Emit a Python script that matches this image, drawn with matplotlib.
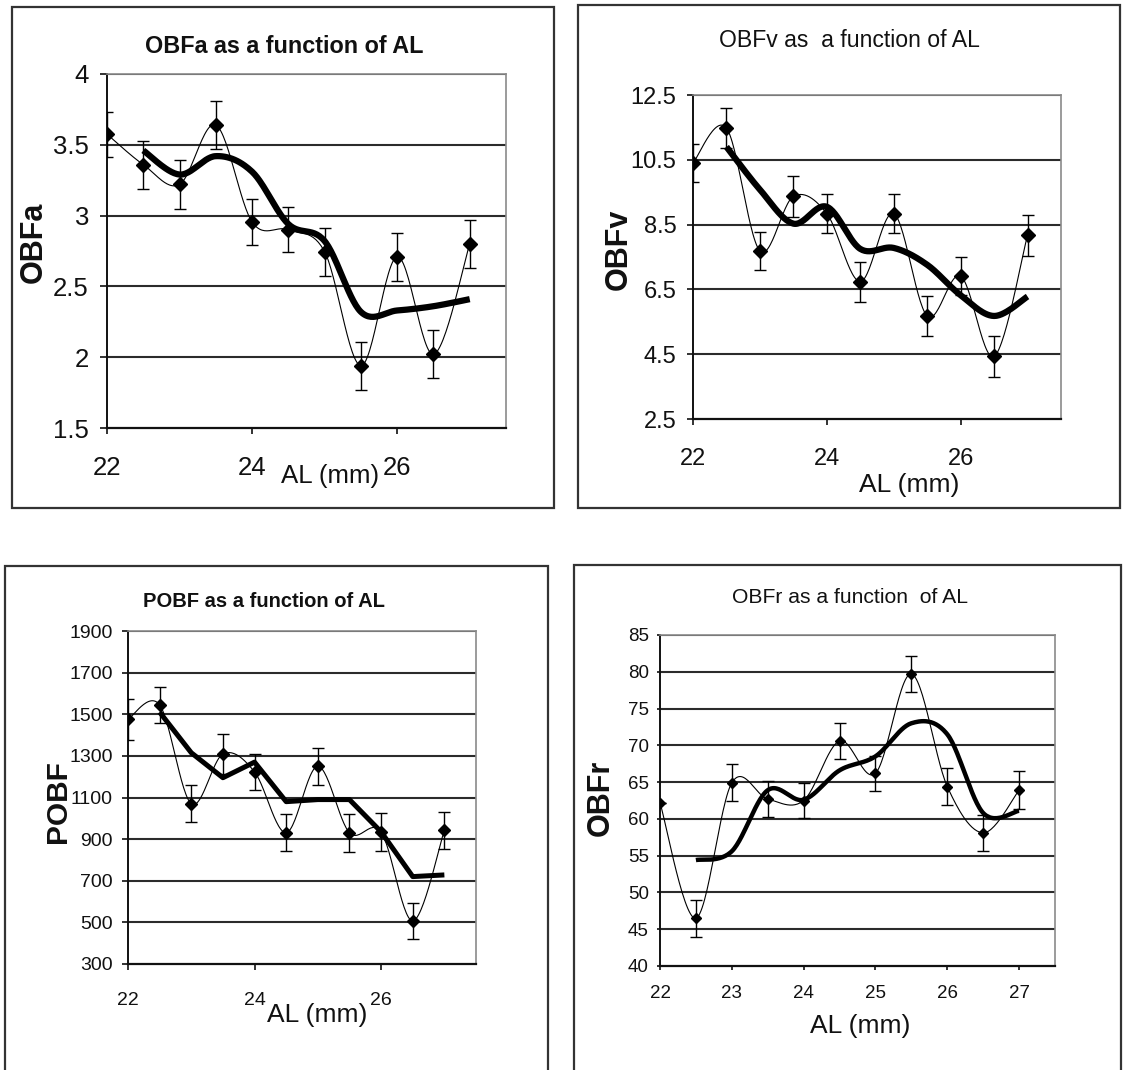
import numpy as np
import matplotlib
matplotlib.use("Agg")
import matplotlib.pyplot as plt
from matplotlib import font_manager
from matplotlib.patches import Rectangle

# ---------------- data ----------------
al = [22, 22.5, 23, 23.5, 24, 24.5, 25, 25.5, 26, 26.5, 27]
al_trend = [22.5, 23, 23.5, 24, 24.5, 25, 25.5, 26, 26.5, 27]

obfa = [3.575, 3.36, 3.22, 3.64, 2.955, 2.90, 2.745, 1.94, 2.71, 2.02, 2.80]
obfa_err = [0.16, 0.17, 0.17, 0.17, 0.16, 0.16, 0.17, 0.17, 0.17, 0.17, 0.17]
obfa_trend = [3.46, 3.29, 3.42, 3.31, 2.94, 2.82, 2.32, 2.33, 2.36, 2.41]

obfv = [10.40, 11.48, 7.69, 9.37, 8.84, 6.74, 8.84, 5.68, 6.91, 4.43, 8.17]
obfv_err = [0.60, 0.63, 0.59, 0.63, 0.61, 0.62, 0.59, 0.61, 0.58, 0.63, 0.64]
obfv_trend = [10.90, 9.58, 8.53, 9.05, 7.75, 7.78, 7.26, 6.32, 5.68, 6.28]

pobf = [1476, 1545, 1070, 1309, 1223, 931, 1250, 931, 934, 507, 942]
pobf_err = [98, 88, 88, 96, 88, 90, 88, 92, 90, 88, 88]
pobf_trend = [1510, 1315, 1195, 1270, 1080, 1090, 1090, 935, 720, 728]

obfr = [62.2, 46.5, 64.9, 62.7, 62.5, 70.6, 66.2, 79.7, 64.4, 58.1, 63.9]
obfr_err = [0.0, 2.5, 2.5, 2.5, 2.4, 2.4, 2.4, 2.4, 2.5, 2.45, 2.55]
obfr_trend = [54.4, 55.6, 63.9, 62.6, 66.6, 68.5, 73.0, 71.5, 60.8, 61.1]

titles = ["OBFa as a function of AL", "OBFv as  a function of AL",
          "POBF as a function of AL", "OBFr as a function  of AL"]
ylabels = ["OBFa", "OBFv", "POBF", "OBFr"]
xlabel = "AL (mm)"
yticks_list = [[1.5, 2, 2.5, 3, 3.5, 4],
               [2.5, 4.5, 6.5, 8.5, 10.5, 12.5],
               [300, 500, 700, 900, 1100, 1300, 1500, 1700, 1900],
               [40, 45, 50, 55, 60, 65, 70, 75, 80, 85]]
xticks_list = [[22, 24, 26], [22, 24, 26], [22, 24, 26], [22, 23, 24, 25, 26, 27]]

# ---------------- helpers ----------------
W, H = 1124, 1070
names = {f.name for f in font_manager.fontManager.ttflist}
FONT = "Liberation Sans" if "Liberation Sans" in names else "DejaVu Sans"
FAM = [FONT, "DejaVu Sans"]


def smooth(x, y, n=30):
    """Excel-like smoothed line (Catmull-Rom Bezier) through the points."""
    x = np.asarray(x, float)
    y = np.asarray(y, float)
    px = np.concatenate([[x[0]], x, [x[-1]]])
    py = np.concatenate([[y[0]], y, [y[-1]]])
    t = np.linspace(0, 1, n)
    xs, ys = [], []
    for i in range(len(x) - 1):
        p0 = np.array([px[i], py[i]])
        p1 = np.array([px[i + 1], py[i + 1]])
        p2 = np.array([px[i + 2], py[i + 2]])
        p3 = np.array([px[i + 3], py[i + 3]])
        c1 = p1 + (p2 - p0) / 6.0
        c2 = p2 - (p3 - p1) / 6.0
        b = ((1 - t) ** 3)[:, None] * p1 + (3 * (1 - t) ** 2 * t)[:, None] * c1 \
            + (3 * (1 - t) * t ** 2)[:, None] * c2 + (t ** 3)[:, None] * p2
        xs.append(b[:, 0])
        ys.append(b[:, 1])
    return np.concatenate(xs), np.concatenate(ys)


def fig_rect(l, t, r, b):
    return [l / W, 1 - b / H, (r - l) / W, (b - t) / H]


def fig_xy(x, y):
    return x / W, 1 - y / H


fig = plt.figure(figsize=(W / 100, H / 100), dpi=100)
fig.patch.set_facecolor("white")

# panel frames
frames = [(12, 7, 554, 508), (578, 5, 1120, 508), (5, 566, 548, 1076), (574, 565, 1121, 1076)]
for (l, t, r, b) in frames:
    fig.add_artist(Rectangle((l / W, 1 - b / H), (r - l) / W, (b - t) / H,
                             transform=fig.transFigure, fill=False,
                             edgecolor="#333333", linewidth=1.6))

axes_px = [(107, 74, 506, 428), (693, 95, 1061, 419), (128, 631, 476, 964), (660, 635, 1055, 966)]
ylims = [(1.5, 4), (2.5, 12.5), (300, 1900), (40, 85)]
series = [(obfa, obfa_err, obfa_trend), (obfv, obfv_err, obfv_trend),
          (pobf, pobf_err, pobf_trend), (obfr, obfr_err, obfr_trend)]
trend_smooth = [True, True, False, True]
marker_size = [7.5, 7.5, 6, 5.5]
trend_lw = [4.5, 4.5, 3.6, 3.2]
tick_fs = [18.5, 17, 14, 13.5]
ytick_len = [5, 4, 4.5, 2.5]
xtick_len = [4, 4, 4, 3]
xtick_pad = [16.5, 17, 16, 10.5]
ytick_pad = [8, 8, 6.5, 5.5]
cap = [4.5, 4.5, 4.5, 4.0]
# (x center, baseline y, size, weight)
title_pos = [(284, 53, 16.8, "bold"), (849, 47, 16.6, "normal"),
             (264, 607, 14.5, "bold"), (850, 603, 15.2, "normal")]
ylabel_pos = [(34, 242, 22), (619, 249, 22), (58, 802, 21.5), (601, 798, 22)]
xlabel_pos = [(330, 483, 18.6), (909, 492, 19), (317, 1022, 19), (860, 1033, 19)]

for k in range(4):
    ax = fig.add_axes(fig_rect(*axes_px[k]))
    y, err, trend = series[k]
    ax.set_xlim(22, 27.5)
    ax.set_ylim(*ylims[k])
    ax.set_yticks(yticks_list[k])
    ax.set_yticklabels([("%g" % v) for v in yticks_list[k]])
    ax.set_xticks(xticks_list[k])
    ax.set_xticklabels([str(v) for v in xticks_list[k]])

    for v in yticks_list[k][1:]:
        ax.axhline(v, color="#2b2b2b", linewidth=1.5, zorder=1)

    # thin smoothed line through the points
    sx, sy = smooth(al, y)
    ax.plot(sx, sy, color="black", linewidth=0.8, zorder=3)
    # error bars
    ax.errorbar(al, y, yerr=err, fmt="none", ecolor="black", elinewidth=1.0,
                capsize=cap[k], capthick=1.0, zorder=4)
    # markers
    ax.plot(al, y, "D", color="black", markersize=marker_size[k], zorder=5)
    # thick trend line
    if trend_smooth[k]:
        tx, ty = smooth(al_trend, trend)
    else:
        tx, ty = al_trend, trend
    ax.plot(tx, ty, color="black", linewidth=trend_lw[k], solid_capstyle="butt",
            solid_joinstyle="round", zorder=6)

    for side in ["top", "right"]:
        ax.spines[side].set_color("#8a8a8a")
        ax.spines[side].set_linewidth(1.2)
    ax.spines["left"].set_color("#111111")
    ax.spines["left"].set_linewidth(1.4)
    ax.spines["bottom"].set_color("#111111")
    ax.spines["bottom"].set_linewidth(1.6)
    ax.tick_params(axis="y", direction="out", length=ytick_len[k], width=1.2,
                   pad=ytick_pad[k], labelsize=tick_fs[k], colors="#111111")
    ax.tick_params(axis="x", direction="out", length=xtick_len[k], width=1.2,
                   pad=xtick_pad[k], labelsize=tick_fs[k], colors="#111111")
    for lab in ax.get_xticklabels() + ax.get_yticklabels():
        lab.set_fontfamily(FAM)

    tx_, ty_, tfs, tw = title_pos[k]
    fig.text(*fig_xy(tx_, ty_), titles[k], ha="center", va="baseline",
             fontsize=tfs, fontweight=tw, family=FAM, color="#111111")
    lx, ly, lfs = ylabel_pos[k]
    fig.text(*fig_xy(lx, ly), ylabels[k], ha="center", va="center", rotation=90,
             fontsize=lfs, fontweight="bold", family=FAM, color="#111111")
    xx, xy, xfs = xlabel_pos[k]
    fig.text(*fig_xy(xx, xy), xlabel, ha="center", va="baseline",
             fontsize=xfs, family=FAM, color="#111111")

fig.savefig("out.png", dpi=100, facecolor="white")
